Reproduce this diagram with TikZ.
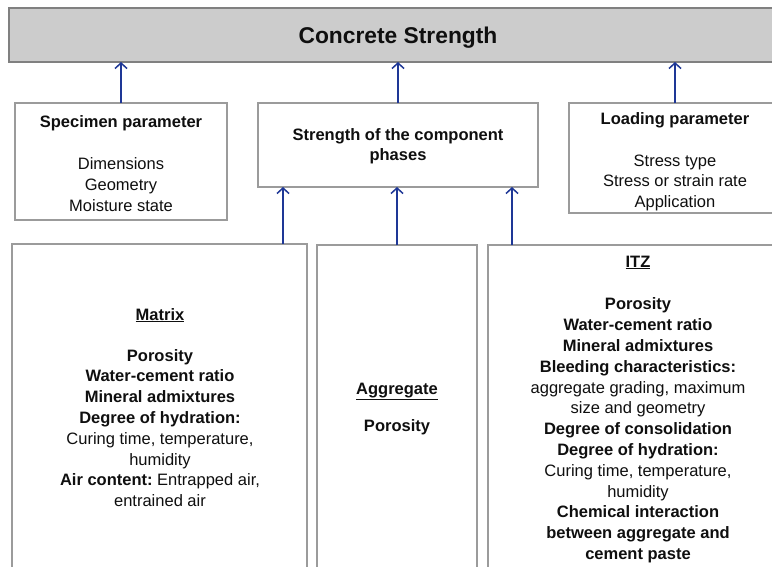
\documentclass[tikz,border=0pt]{standalone}
\usepackage{fontspec}
\setmainfont{Liberation Sans}
\usetikzlibrary{arrows.meta,calc}
\definecolor{arrowblue}{RGB}{30,55,150}
\definecolor{boxgray}{RGB}{155,155,155}
\definecolor{topfill}{RGB}{204,204,204}
\definecolor{topline}{RGB}{128,128,128}
\definecolor{txtcol}{RGB}{15,15,15}
\begin{document}
\begin{tikzpicture}[x=1pt,y=-1pt,
  box/.style={draw=boxgray,line width=1.8pt,fill=white,inner sep=0pt,outer sep=0pt},
  topbox/.style={draw=topline,fill=topfill,line width=1.8pt,inner sep=0pt,outer sep=0pt},
  txt/.style={align=center,inner sep=0pt,text=txtcol,font=\fontsize{16.5}{20.8}\selectfont,anchor=base},
  arr/.style={draw=arrowblue,line width=1.5pt,-{Straight Barb[length=5.5pt,width=12pt]}}]
\useasboundingbox (0,0) rectangle (772,566);
\clip (0,0) rectangle (772,566);
\fill[white] (0,0) rectangle (772,566);

% boxes
\node[topbox,minimum width=781pt,minimum height=54pt] (top) at (399.5,35) {};
\node[box,minimum width=212pt,minimum height=117pt] (spec) at (121,161.5) {};
\node[box,minimum width=280pt,minimum height=84pt] (str) at (398,145) {};
\node[box,minimum width=221pt,minimum height=110pt] (load) at (679.5,158) {};
\node[box,minimum width=295pt,minimum height=356pt] (matrix) at (159.5,422) {};
\node[box,minimum width=160pt,minimum height=355pt] (aggr) at (397,422.5) {};
\node[box,minimum width=302pt,minimum height=355pt] (itz) at (639,422.5) {};

% texts (anchor = baseline of last line)
\node[txt] (ttop) at (398,43) {\fontsize{22.8}{27}\selectfont\bfseries Concrete Strength};
\node[txt] (tspec) at (121,211.4) {\textbf{Specimen parameter}\\[22pt]Dimensions\\Geometry\\Moisture state};
\node[txt] (tstr) at (398,160.8) {\textbf{Strength of the component}\\\textbf{phases}};
\node[txt] (tload) at (675,207.7) {\textbf{Loading parameter}\\[21.3pt]Stress type\\Stress or strain rate\\Application};
\node[txt] (tmatrix) at (160,506.7) {\underline{\textbf{Matrix}}\\[20.3pt]
  \textbf{Porosity}\\\textbf{Water-cement ratio}\\\textbf{Mineral admixtures}\\
  \textbf{Degree of hydration:}\\Curing time, temperature,\\humidity\\
  \textbf{Air content:}~Entrapped air,\\entrained air};
\node[txt] (taggr) at (397,431.8) {\underline{\textbf{Aggregate}}\\[17pt]\textbf{Porosity}};
\node[txt] (titz) at (638,559.4) {\underline{\textbf{ITZ}}\\[22pt]
  \textbf{Porosity}\\\textbf{Water-cement ratio}\\\textbf{Mineral admixtures}\\
  \textbf{Bleeding characteristics:}\\aggregate grading, maximum\\size and geometry\\
  \textbf{Degree of consolidation}\\\textbf{Degree of hydration:}\\
  Curing time, temperature,\\humidity\\\textbf{Chemical interaction}\\
  \textbf{between aggregate and}\\\textbf{cement paste}};

% connectors
\coordinate (lp) at ([xshift=106pt]load.north west);
\coordinate (sm) at ([xshift=25pt]str.south west);
\coordinate (si) at ([xshift=-26pt]str.south east);
\draw[arr] (spec.north) -- (spec.north |- top.south);
\draw[arr] (str.north) -- (str.north |- top.south);
\draw[arr] (lp) -- (lp |- top.south);
\draw[arr] (sm |- matrix.north) -- (sm);
\draw[arr] (aggr.north) -- (aggr.north |- str.south);
\draw[arr] (si |- itz.north) -- (si);
\end{tikzpicture}
\end{document}
